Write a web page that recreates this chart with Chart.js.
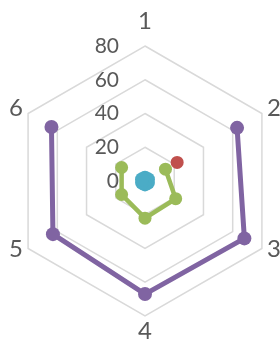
<!DOCTYPE html>
<html>
<head>
  <meta charset="utf-8">
  <title>Radar</title>
  <script src="https://cdnjs.cloudflare.com/ajax/libs/Chart.js/4.4.1/chart.umd.min.js"></script>
  <style>
    html, body { margin: 0; padding: 0; background: #fff; }
    #wrap { width: 280px; height: 343px; }
  </style>
</head>
<body>

  <div id="wrap"><canvas id="radar"></canvas></div>

  <script>
    var categories = ['1', '2', '3', '4', '5', '6'];
    var tickValues = [0, 20, 40, 60, 80];

    var aquaValues   = [2, 2, 2, 2, 2, 2];
    var greenValues  = [null, 14, 21, 22, 16, 16];
    var redValues    = [null, 22, null, null, null, null];
    var purpleValues = [null, 63, 68, 67, 63, 64];

    var textColor = '#595959';

    // tick numbers sit left of the top spoke, point labels outside the rings
    var labelPlugin = {
      id: 'excelLabels',
      beforeDatasetsDraw: function (chart) {
        var s = chart.scales.r, ctx = chart.ctx;
        ctx.save();
        ctx.fillStyle = textColor;
        ctx.textBaseline = 'middle';

        ctx.font = '21px Lato';
        ctx.textAlign = 'right';
        tickValues.forEach(function (v) {
          ctx.fillText(String(v), s.xCenter - 26, s.yCenter - s.getDistanceFromCenterForValue(v));
        });

        ctx.font = '24px Lato';
        categories.forEach(function (c, i) {
          var p = s.getPointPosition(i, s.drawingArea + 6);
          var dx = p.x - s.xCenter, dy = p.y - s.yCenter;
          var y = p.y;
          if (Math.abs(dx) < 1) {
            ctx.textAlign = 'center';
            y += dy < 0 ? -18.5 : 9.5;
          } else {
            ctx.textAlign = dx > 0 ? 'left' : 'right';
            y -= 2.5;
          }
          ctx.fillText(c, p.x, y);
        });
        ctx.restore();
      }
    };

    function series(values, color, width, radius) {
      return {
        data: values,
        borderColor: color,
        backgroundColor: color,
        pointBackgroundColor: color,
        pointBorderWidth: 0,
        pointRadius: radius,
        pointHoverRadius: radius,
        borderWidth: width,
        fill: false,
        spanGaps: false
      };
    }

    var chart = new Chart(document.getElementById('radar').getContext('2d'), {
      type: 'radar',
      data: {
        labels: categories,
        datasets: [
          series(aquaValues, '#4BACC6', 2, 7),
          series(greenValues, '#9BBB59', 4.5, 6.5),
          series(redValues, '#C0504D', 4.5, 6.5),
          series(purpleValues, '#8064A2', 5, 7)
        ]
      },
      options: {
        responsive: true,
        maintainAspectRatio: false,
        animation: false,
        layout: { padding: { left: 10, right: 0, top: 19, bottom: 0 } },
        plugins: {
          legend: { display: false },
          tooltip: { enabled: false }
        },
        scales: {
          r: {
            min: 0,
            max: 80,
            ticks: { stepSize: 20, display: false },
            grid: { color: '#d9d9d9', lineWidth: 1.5 },
            angleLines: { display: false },
            pointLabels: { display: false }
          }
        }
      },
      plugins: [labelPlugin]
    });
  </script>

</body>
</html>
